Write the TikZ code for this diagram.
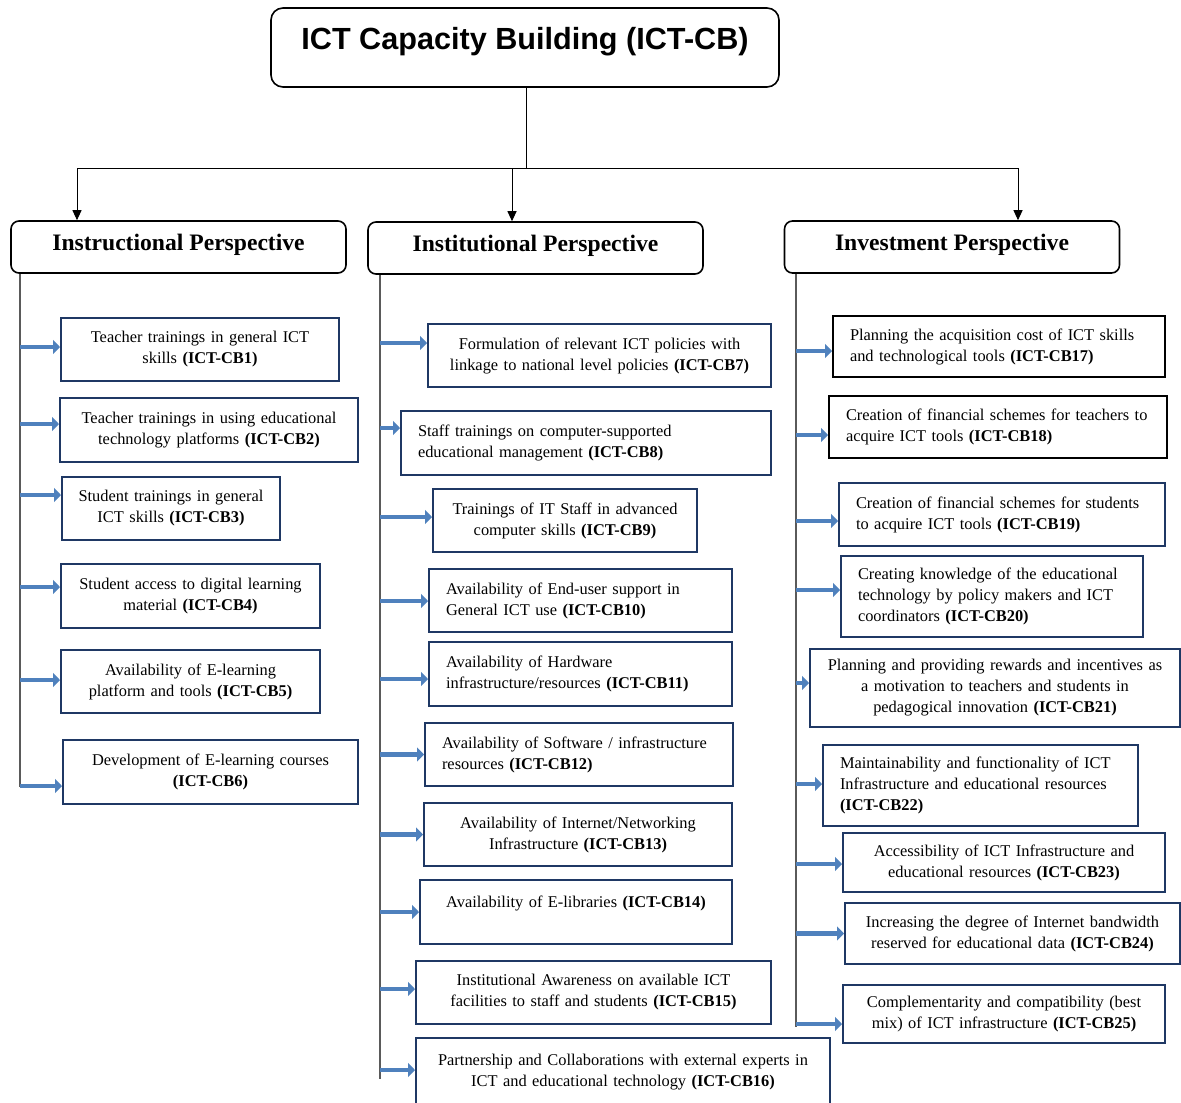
\documentclass[tikz,border=0pt]{standalone}
\usepackage{fontspec}
\setmainfont{Liberation Serif}
\newfontfamily\titlefont{Liberation Sans}
\usetikzlibrary{arrows.meta,calc}
\definecolor{navy}{RGB}{31,56,100}
\definecolor{arrowblue}{RGB}{79,129,189}
\definecolor{vgray}{RGB}{90,90,90}
\tikzset{
  cb/.style={draw, line width=1pt, fill=white, inner ysep=1pt, font=\fontsize{8.2}{10.5}\selectfont},
  persp/.style={draw, line width=0.8pt, rounded corners=4pt, minimum width=167.5pt, minimum height=26pt,
     font=\fontsize{11.8}{13}\selectfont\bfseries, text height=8.5pt, text depth=5.3pt},
  titlebox/.style={draw, line width=0.8pt, rounded corners=6pt, minimum width=254pt, minimum height=39.5pt,
     font=\titlefont\fontsize{15.3}{17}\selectfont\bfseries, text height=11pt, text depth=8.5pt},
  barrow/.style={draw=arrowblue, line width=2.2pt, -{Triangle[length=3.5pt,width=7pt]}},
  vline/.style={draw=vgray, line width=0.7pt},
  conn/.style={draw=black, line width=0.5pt},
  tip/.style={conn, -{Triangle[length=5pt,width=4.5pt]}}
}
\newcommand\cbnode[9]{%
  \pgfmathsetmacro\cbw{(#4-#2)/2-2*#6}%
  \pgfmathsetmacro\cbh{(#5-#3)/2}%
  \node[cb, draw=#8, inner xsep=#6pt, text width=\cbw pt, minimum height=\cbh pt, align=#7]
     (#1) at ({(#2+#4)/2},{(#3+#5)/2}) {#9};}
\begin{document}
\begin{tikzpicture}[x=0.5pt,y=-0.5pt]
\useasboundingbox[fill=white] (0,0) rectangle (1181,1102);

% title
\node[titlebox] (title) at (525,47.5) {ICT Capacity Building (ICT-CB)};

% perspectives
\node[persp] (p1) at (178.5,247) {Instructional Perspective};
\node[persp] (p2) at (535.5,248) {Institutional Perspective};
\node[persp] (p3) at (952,247) {Investment Perspective};

% top connectors
\coordinate (hub) at (526,168);
\coordinate (hl) at (77,168);
\coordinate (hm) at (512,168);
\coordinate (hr) at (1018,168);
\draw[conn] (title.south -| hub) -- (hub);
\draw[conn] (hl) -- (hr);
\draw[tip] (hl) -- (hl |- p1.north);
\draw[tip] (hm) -- (hm |- p2.north);
\draw[tip] (hr) -- (hr |- p3.north);

% instructional boxes
\cbnode{b1}{61}{318}{339}{381}{2}{center}{navy}{Teacher trainings in general ICT\\ skills \textbf{(ICT-CB1)}}
\cbnode{b2}{60}{398}{358}{462}{2}{center}{navy}{Teacher trainings in using educational\\ technology platforms \textbf{(ICT-CB2)}}
\cbnode{b3}{62}{477}{280}{540}{2}{center}{navy}{Student trainings in general\\ ICT skills \textbf{(ICT-CB3)}}
\cbnode{b4}{61}{564}{320}{628}{2}{center}{navy}{Student access to digital learning\\ material \textbf{(ICT-CB4)}}
\cbnode{b5}{61}{650}{320}{713}{2}{center}{navy}{Availability of E-learning\\ platform and tools \textbf{(ICT-CB5)}}
\cbnode{b6}{63}{740}{358}{804}{2}{center}{navy}{Development of E-learning courses\\ \textbf{(ICT-CB6)}}

% institutional boxes
\cbnode{b7}{428}{324}{771}{387}{2}{center}{navy}{Formulation of relevant ICT policies with\\ linkage to national level policies \textbf{(ICT-CB7)}}
\cbnode{b8}{401}{411}{771}{475}{8.5}{left}{navy}{Staff trainings on computer-supported\\ educational management \textbf{(ICT-CB8)}}
\cbnode{b9}{433}{489}{697}{552}{2}{center}{navy}{Trainings of IT Staff in advanced\\ computer skills \textbf{(ICT-CB9)}}
\cbnode{b10}{429}{569}{732}{632}{8.5}{left}{navy}{Availability of End-user support in\\ General ICT use \textbf{(ICT-CB10)}}
\cbnode{b11}{429}{642}{732}{706}{8.5}{left}{navy}{Availability of Hardware\\ infrastructure/resources \textbf{(ICT-CB11)}}
\cbnode{b12}{425}{723}{733}{786}{8.5}{left}{navy}{Availability of Software / infrastructure\\ resources \textbf{(ICT-CB12)}}
\cbnode{b13}{424}{803}{732}{866}{2}{center}{navy}{Availability of Internet/Networking\\ Infrastructure \textbf{(ICT-CB13)}}
\cbnode{b14}{420}{880}{732}{944}{2}{center}{navy}{Availability of E-libraries \textbf{(ICT-CB14)}\\ \mbox{}}
\cbnode{b15}{416}{961}{771}{1024}{2}{center}{navy}{Institutional Awareness on available ICT\\ facilities to staff and students \textbf{(ICT-CB15)}}
\cbnode{b16}{416}{1038}{830}{1106}{2}{center}{navy}{Partnership and Collaborations with external experts in\\ ICT and educational technology \textbf{(ICT-CB16)}\\[5pt]}

% investment boxes
\cbnode{b17}{833}{316}{1165}{377}{8.5}{left}{black}{Planning the acquisition cost of ICT skills\\ and technological tools \textbf{(ICT-CB17)}}
\cbnode{b18}{829}{396}{1167}{458}{8.5}{left}{black}{Creation of financial schemes for teachers to\\ acquire ICT tools \textbf{(ICT-CB18)}}
\cbnode{b19}{839}{483}{1165}{546}{8.5}{left}{navy}{Creation of financial schemes for students\\ to acquire ICT tools \textbf{(ICT-CB19)}}
\cbnode{b20}{841}{556}{1143}{637}{8.5}{left}{navy}{Creating knowledge of the educational\\ technology by policy makers and ICT\\ coordinators \textbf{(ICT-CB20)}}
\cbnode{b21}{810}{649}{1180}{727}{2}{center}{navy}{Planning and providing rewards and incentives as\\ a motivation to teachers and students in\\ pedagogical innovation \textbf{(ICT-CB21)}}
\cbnode{b22}{823}{745}{1138}{826}{8.5}{left}{navy}{Maintainability and functionality of ICT\\ Infrastructure and educational resources\\ \textbf{(ICT-CB22)}}
\cbnode{b23}{843}{833}{1165}{892}{2}{center}{navy}{Accessibility of ICT Infrastructure and\\ educational resources \textbf{(ICT-CB23)}}
\cbnode{b24}{845}{903}{1180}{964}{2}{center}{navy}{Increasing the degree of Internet bandwidth\\ reserved for educational data \textbf{(ICT-CB24)}}
\cbnode{b25}{843}{985}{1165}{1043}{2}{center}{navy}{Complementarity and compatibility (best\\ mix) of ICT infrastructure \textbf{(ICT-CB25)}}

% vertical spine coordinates
\coordinate (v1) at (20,0);
\coordinate (v2) at (380,0);
\coordinate (v3) at (796,0);

% arrow anchor points on box edges
\foreach \n/\d in {1/-2.5,2/-6,3/-13.5,4/-9,5/-1.5,6/14,
                   7/-12.5,8/-15,9/-3.5,10/0.5,11/5,12/0,13/0,14/0,15/-3.5,16/-2,
                   17/4.5,18/8,19/6.5,20/-6.5,21/-5,22/-1.5,23/1.5,24/0,25/10}
  \coordinate (a\n) at ($(b\n.west)+(0,\d)$);

% spines
\draw[vline] (v1 |- p1.south) -- ($(v1 |- a6)+(0,1)$);
\draw[vline] (v2 |- p2.south) -- ($(v2 |- a16)+(0,9)$);
\draw[vline] (v3 |- p3.south) -- ($(v3 |- a25)+(0,3)$);

% blue arrows
\foreach \n in {1,...,6} \draw[barrow] (a\n -| v1) -- (a\n);
\foreach \n in {7,...,16} \draw[barrow] (a\n -| v2) -- (a\n);
\foreach \n in {17,...,25} \draw[barrow] (a\n -| v3) -- (a\n);
\end{tikzpicture}
\end{document}
